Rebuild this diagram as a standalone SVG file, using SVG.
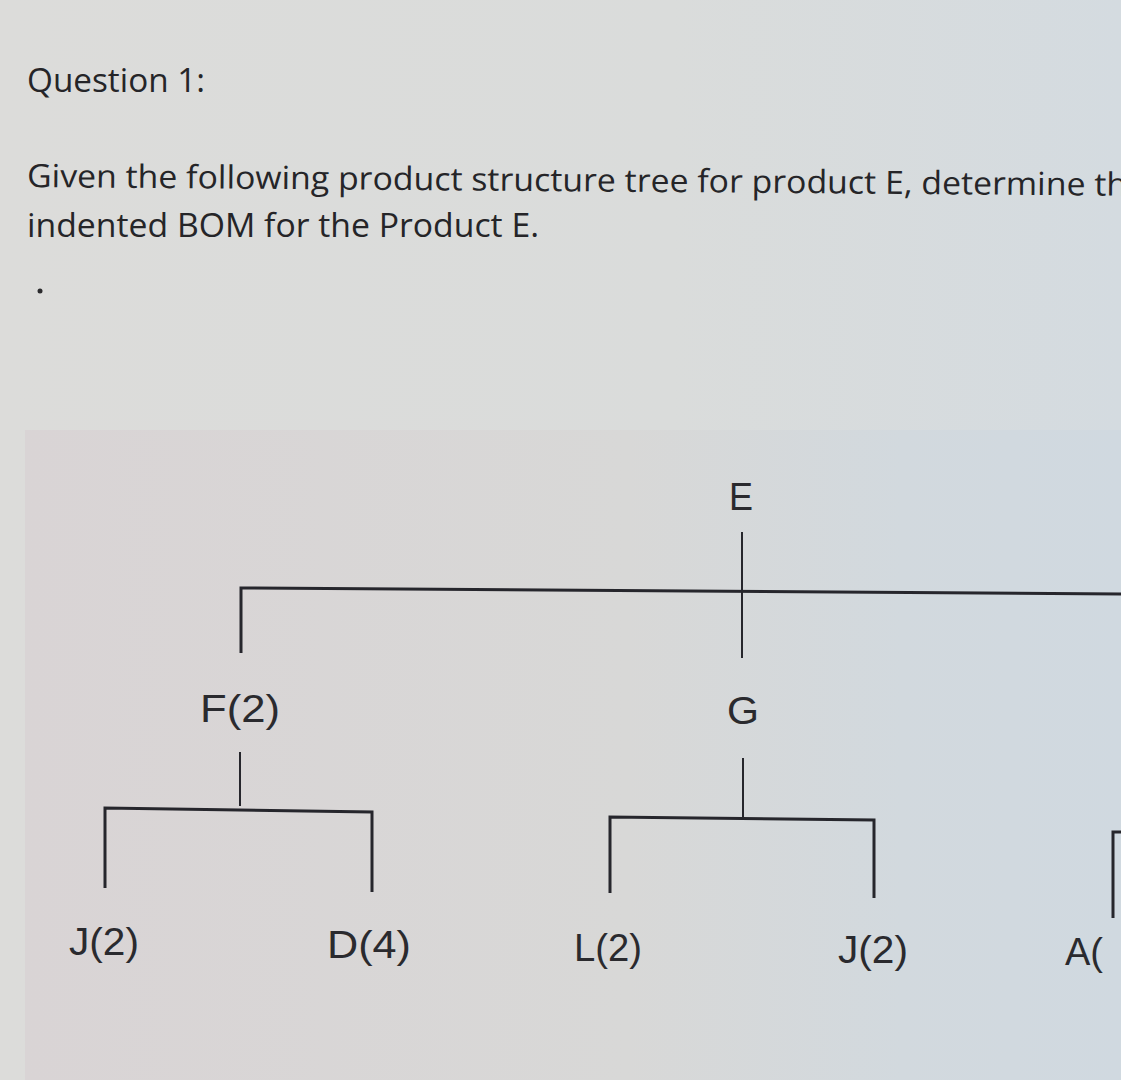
<svg xmlns="http://www.w3.org/2000/svg" width="1121" height="1080" viewBox="0 0 1121 1080">
<defs>
<linearGradient id="bg" x1="0" y1="0" x2="1" y2="0">
<stop offset="0" stop-color="#dcdcda"/>
<stop offset="0.6" stop-color="#dadcdb"/>
<stop offset="1" stop-color="#d4dbe0"/>
</linearGradient>
<linearGradient id="panel" x1="0" y1="0" x2="1" y2="0">
<stop offset="0" stop-color="#d9d4d5"/>
<stop offset="0.55" stop-color="#d8d8d7"/>
<stop offset="0.8" stop-color="#d2d9de"/>
<stop offset="1" stop-color="#d0d9e0"/>
</linearGradient>
<style>
.hd{font-family:"Open Sans","Noto Sans","Liberation Sans",sans-serif;font-size:32px;fill:#252528}
.lb{font-family:"Liberation Sans","DejaVu Sans",sans-serif;font-size:38px;fill:#2a2a2e;text-anchor:middle}
.ln{stroke:#26262c;stroke-width:2;fill:none}
.hv{stroke:#26262c;stroke-width:3;fill:none}
</style>
</defs>
<rect width="1121" height="1080" fill="url(#bg)"/>
<rect x="25" y="430" width="1096" height="650" fill="url(#panel)"/>
<g id="header">
<text class="hd" x="27" y="92" textLength="178" lengthAdjust="spacingAndGlyphs">Question 1:</text>
<text class="hd" x="27" y="187" textLength="1100" lengthAdjust="spacingAndGlyphs" transform="rotate(0.45 27 187)">Given the following product structure tree for product E, determine th</text>
<text class="hd" x="27" y="237" textLength="512" lengthAdjust="spacingAndGlyphs">indented BOM for the Product E.</text>
<circle cx="40" cy="291" r="2.5" fill="#2b2b2d"/>
</g>
<g id="connectors">
<line class="ln" x1="742" y1="532" x2="742" y2="658"/>
<polyline class="hv" points="241,653 241,588 1121,594"/>
<line class="ln" x1="240" y1="752" x2="240" y2="806"/>
<polyline class="hv" points="105,888 105,808 372,812 372,892"/>
<line class="ln" x1="743" y1="758" x2="743" y2="818"/>
<polyline class="hv" points="610,893 610,817 874,820 874,898"/>
<polyline class="hv" points="1113,918 1113,832 1121,832"/>
</g>
<g id="node-E"><text class="lb" x="741" y="510" textLength="24" lengthAdjust="spacingAndGlyphs">E</text></g>
<g id="node-F"><text class="lb" x="240" y="722" textLength="80" lengthAdjust="spacingAndGlyphs">F(2)</text></g>
<g id="node-G"><text class="lb" x="743" y="724" textLength="32" lengthAdjust="spacingAndGlyphs">G</text></g>
<g id="node-J1"><text class="lb" x="104" y="955" textLength="70" lengthAdjust="spacingAndGlyphs">J(2)</text></g>
<g id="node-D"><text class="lb" x="369" y="958" textLength="84" lengthAdjust="spacingAndGlyphs">D(4)</text></g>
<g id="node-L"><text class="lb" x="608" y="961" textLength="68" lengthAdjust="spacingAndGlyphs">L(2)</text></g>
<g id="node-J2"><text class="lb" x="873" y="963" textLength="70" lengthAdjust="spacingAndGlyphs">J(2)</text></g>
<g id="node-A"><text class="lb" x="1065" y="965" style="text-anchor:start">A(</text></g>
</svg>
